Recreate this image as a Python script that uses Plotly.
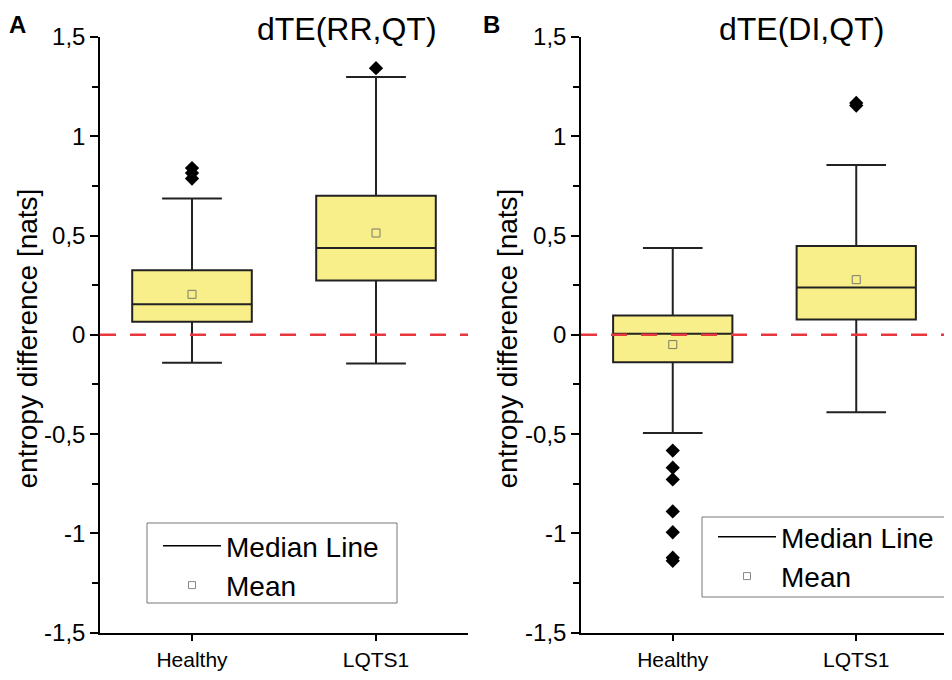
import plotly.graph_objects as go
from plotly.subplots import make_subplots

# groups on the x axis
groups = ["Healthy", "LQTS1"]

# panel A: dTE(RR,QT) box statistics
a_q1 = [0.066, 0.274]
a_median = [0.154, 0.437]
a_q3 = [0.325, 0.701]
a_lower = [-0.140, -0.144]
a_upper = [0.687, 1.298]
a_mean = [0.204, 0.513]
a_out_healthy = [0.787, 0.815, 0.840]
a_out_lqts = [1.343]

# panel B: dTE(DI,QT) box statistics
b_q1 = [-0.138, 0.077]
b_median = [0.006, 0.238]
b_q3 = [0.097, 0.447]
b_lower = [-0.494, -0.390]
b_upper = [0.437, 0.855]
b_mean = [-0.049, 0.278]
b_out_healthy = [-0.583, -0.669, -0.728, -0.889, -0.994, -1.122, -1.138]
b_out_lqts = [1.155, 1.168]

# y tick labels (comma decimals, plain hyphen)
y_tickvals = [-1.5, -1.0, -0.5, 0.0, 0.5, 1.0, 1.5]
y_ticktext = ["-1,5", "-1", "-0,5", "0", "0,5", "1", "1,5"]

# the page body has an 8px margin, so work in screen pixels and shift
OFF = 8
W, H = 952 - OFF, 680 - 2 * OFF
FONT = "Arial, Liberation Sans, sans-serif"
BOX_FILL = "#F8EE8A"
BOX_LINE = "#222222"
MEAN_COL = "#7a7a6a"


def px(x):
    return (x - OFF) / W


def py(y):
    return 1 - (y - OFF) / H


fig = make_subplots(rows=1, cols=2)

panels = [
    (1, a_q1, a_median, a_q3, a_lower, a_upper, a_mean, a_out_healthy, a_out_lqts, "legend"),
    (2, b_q1, b_median, b_q3, b_lower, b_upper, b_mean, b_out_healthy, b_out_lqts, "legend2"),
]

for col, q1, med, q3, lo, hi, mn, out_h, out_l, leg in panels:
    fig.add_trace(go.Box(
        x=groups, q1=q1, median=med, q3=q3,
        lowerfence=lo, upperfence=hi,
        width=0.65, whiskerwidth=0.5,
        fillcolor=BOX_FILL,
        line=dict(color=BOX_LINE, width=2),
        boxpoints=False, showlegend=False, hoverinfo="skip",
    ), row=1, col=col)

    # outliers
    fig.add_trace(go.Scatter(
        x=[groups[0]] * len(out_h) + [groups[1]] * len(out_l),
        y=out_h + out_l,
        mode="markers",
        marker=dict(symbol="diamond", size=11, color="black"),
        showlegend=False, hoverinfo="skip",
    ), row=1, col=col)

    # means
    fig.add_trace(go.Scatter(
        x=groups, y=mn, mode="markers",
        marker=dict(symbol="square-open", size=8, color=MEAN_COL, line=dict(width=1)),
        showlegend=False, hoverinfo="skip",
    ), row=1, col=col)

    # legend entries
    fig.add_trace(go.Scatter(
        x=[None], y=[None], mode="lines", name="Median Line",
        line=dict(color="black", width=1.5), legend=leg,
    ), row=1, col=col)
    fig.add_trace(go.Scatter(
        x=[None], y=[None], mode="markers", name="Mean",
        marker=dict(symbol="square-open", size=7, color="#888888", line=dict(width=1)),
        legend=leg,
    ), row=1, col=col)

    # zero reference line
    xref = "x domain" if col == 1 else "x2 domain"
    yref = "y" if col == 1 else "y2"
    fig.add_shape(type="line", xref=xref, yref=yref, x0=0, x1=1, y0=0, y1=0,
                  line=dict(color="#E8383D", width=2.5, dash="16px,14px"), layer="above")

# legend frames
for x0, y0, x1, y1 in [(147, 523, 397, 603), (702, 517, 950, 597)]:
    fig.add_shape(type="rect", xref="paper", yref="paper",
                  x0=px(x0), x1=px(x1), y0=py(y1), y1=py(y0),
                  line=dict(color="#777777", width=1), fillcolor="white", layer="below")

axis_common = dict(showline=True, linecolor="black", linewidth=1.5, showgrid=False,
                   zeroline=False, ticks="outside", tickcolor="black", ticklen=8, tickwidth=1.5,
                   automargin=False, tickfont=dict(family=FONT, size=24, color="black"))

fig.update_yaxes(range=[-1.5, 1.5], tickvals=y_tickvals, ticktext=y_ticktext,
                 minor=dict(ticks="outside", tick0=0, dtick=0.25, ticklen=6, tickcolor="black", tickwidth=1.5),
                 **axis_common)
fig.update_xaxes(range=[-0.5, 1.5], type="category", **axis_common)
fig.update_xaxes(ticklen=7, tickfont=dict(family=FONT, size=21, color="black"))

legend_common = dict(xanchor="left", yanchor="top", borderwidth=0,
                     bgcolor="rgba(0,0,0,0)", itemwidth=58,
                     font=dict(family=FONT, size=28, color="black"))

fig.update_layout(
    width=W, height=H,
    margin=dict(l=0, r=0, t=0, b=0, pad=0),
    plot_bgcolor="rgba(0,0,0,0)", paper_bgcolor="white",
    xaxis=dict(domain=[px(100), px(468)]),
    xaxis2=dict(domain=[px(581), px(948)]),
    yaxis=dict(domain=[py(632.7), py(37)]),
    yaxis2=dict(domain=[py(632.7), py(37)]),
    legend=dict(x=px(158), y=py(521), **legend_common),
    legend2=dict(x=px(713), y=py(512), **legend_common),
    showlegend=True,
)

# panel titles
for text, xc in [("dTE(RR,QT)", 347), ("dTE(DI,QT)", 801)]:
    fig.add_annotation(text=text, x=px(xc), y=py(8.5), xref="paper", yref="paper",
                       showarrow=False, xanchor="center", yanchor="top",
                       font=dict(family=FONT, size=32, color="black"))

# panel letters
for text, xc in [("<b>A</b>", 17), ("<b>B</b>", 492)]:
    fig.add_annotation(text=text, x=px(xc), y=py(8.5), xref="paper", yref="paper",
                       showarrow=False, xanchor="center", yanchor="top",
                       font=dict(family=FONT, size=24, color="black"))

# y axis titles
for xc in (9, 489):
    fig.add_annotation(text="entropy difference [nats]", x=px(xc), y=py(339),
                       xref="paper", yref="paper", showarrow=False, textangle=-90,
                       xanchor="left", yanchor="middle",
                       font=dict(family=FONT, size=28, color="black"))

fig.write_html("out.html", config={"displayModeBar": False})
